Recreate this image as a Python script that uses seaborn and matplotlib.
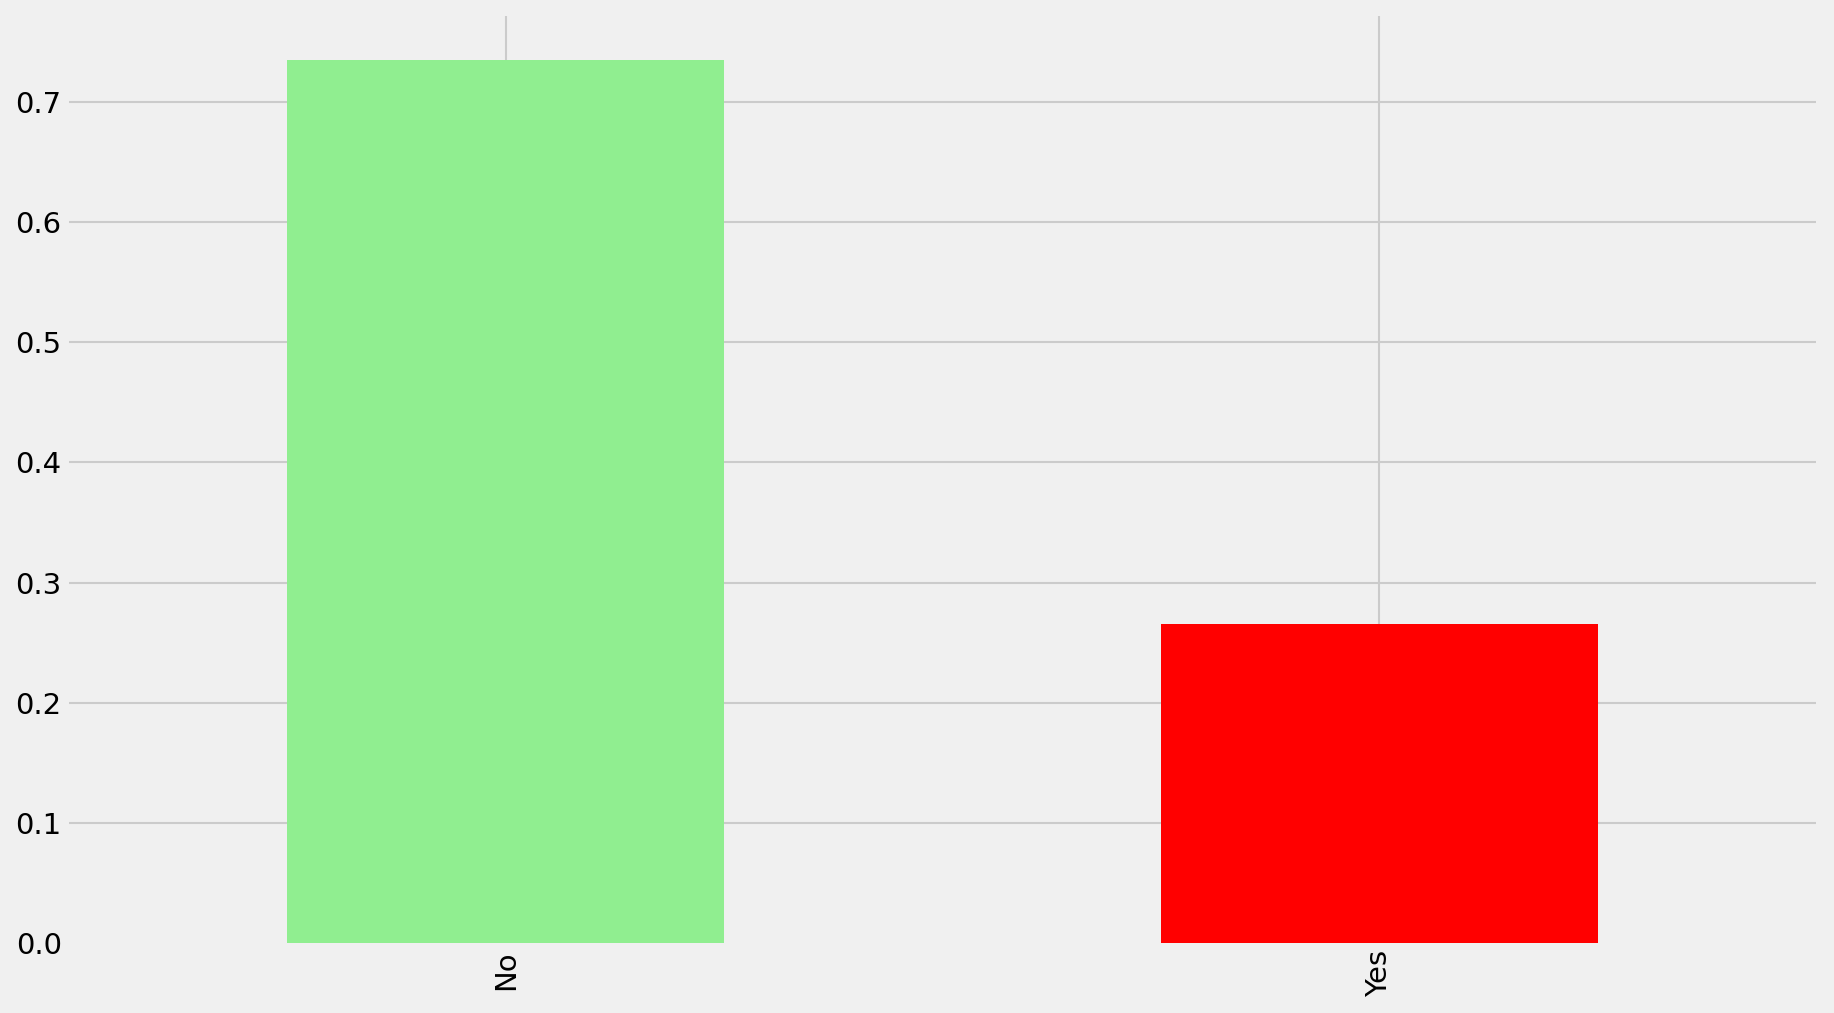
import matplotlib
matplotlib.use("Agg")
import matplotlib.pyplot as plt
import seaborn as sns

# share of customers by churn status
categories = ["No", "Yes"]
shares = [0.7346, 0.2654]
bar_colors = ["lightgreen", "red"]

plt.style.use("fivethirtyeight")

fig = plt.figure(figsize=(1834 / 150, 1013 / 150), dpi=150)
ax = fig.add_axes([69 / 1834, 0.0691, 0.9526, 0.9147])

sns.barplot(x=categories, y=shares, hue=categories, palette=bar_colors,
            width=0.5, saturation=1, legend=False, ax=ax)

ax.set_xlim(-0.5, 1.5)
ax.set_ylim(0, 0.7713)
ax.set_xlabel("")
ax.set_ylabel("")
ax.grid(True, axis="both")
ax.set_axisbelow(True)
ax.tick_params(axis="x", labelrotation=90)
for s in ax.spines.values():
    s.set_visible(False)
# the line at zero sits on the axes edge and is not shown in the original
ax.get_ygridlines()[0].set_visible(False)

fig.savefig("out.png", dpi=150, facecolor=fig.get_facecolor())
